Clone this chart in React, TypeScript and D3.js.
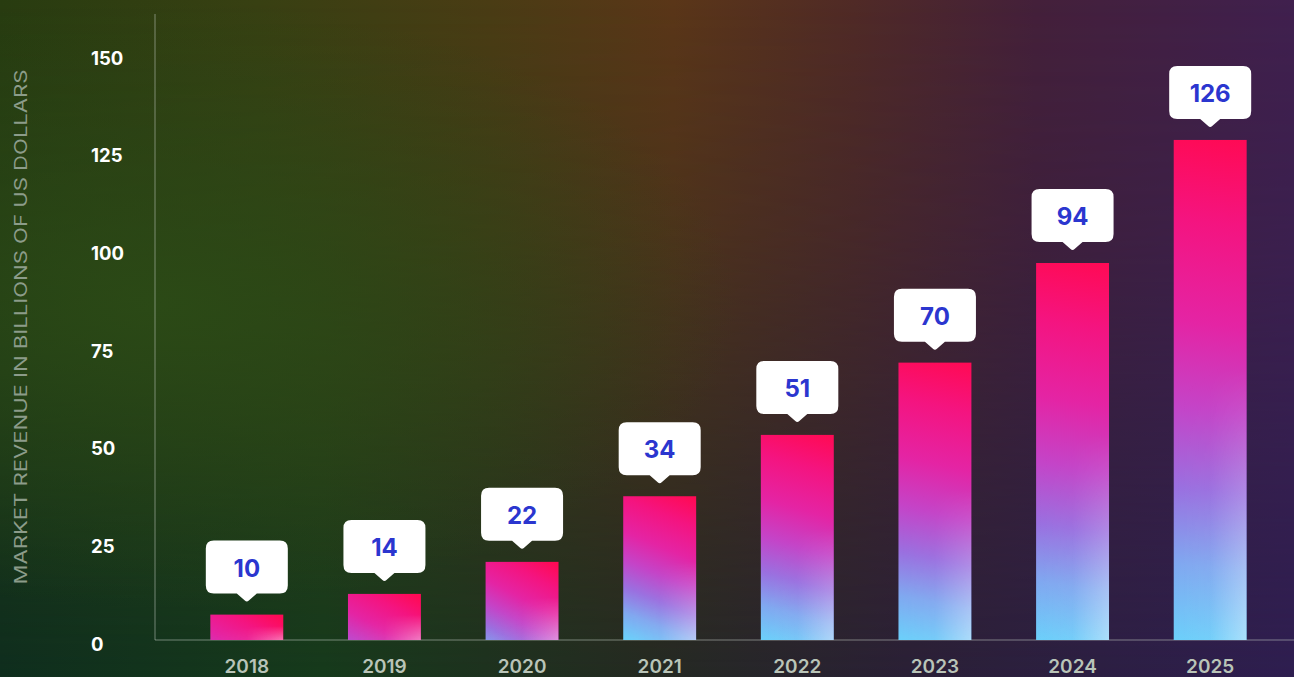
import React from "react";
import * as d3 from "d3";

const years = ["2018", "2019", "2020", "2021", "2022", "2023", "2024", "2025"];
const barValues = [6.5, 11.8, 20, 36.8, 52.5, 71, 96.5, 128];
const labels = ["10", "14", "22", "34", "51", "70", "94", "126"];
const yTicks = [0, 25, 50, 75, 100, 125, 150];
const yTitle = "MARKET REVENUE IN BILLIONS OF US DOLLARS";

const W = 1294;
const H = 677;

const barStops: [number, string][] = [
  [0, "#6ccffa"],
  [0.15, "#80a8f0"],
  [0.3, "#9a70e0"],
  [0.46, "#c444c8"],
  [0.63, "#e424a4"],
  [0.83, "#f41480"],
  [1, "#ff0a55"],
];

export default function App() {
  const x = d3
    .scaleBand<string>()
    .domain(years)
    .range([178, 1279])
    .paddingInner(0.47)
    .paddingOuter(0.235);
  const y = d3.scaleLinear().domain([0, 150]).range([640, 54]);
  const bw = x.bandwidth();
  const boxW = 82;
  const boxH = 53;
  const ptr = 8;

  return (
    <div style={{ position: "fixed", left: 0, top: 0, width: W, height: H }}>
      <svg width={W} height={H} style={{ display: "block" }}>
        <defs>
          <linearGradient id="bgTop" x1="0" y1="0" x2="1" y2="0">
            <stop offset="0" stopColor="#283c10" />
            <stop offset="0.2" stopColor="#384012" />
            <stop offset="0.38" stopColor="#4a3c14" />
            <stop offset="0.52" stopColor="#5a3618" />
            <stop offset="0.66" stopColor="#502a26" />
            <stop offset="0.8" stopColor="#44203a" />
            <stop offset="1" stopColor="#40204e" />
          </linearGradient>
          <linearGradient id="bgBot" x1="0" y1="0" x2="1" y2="0">
            <stop offset="0" stopColor="#0f2e1e" />
            <stop offset="0.25" stopColor="#163a1c" />
            <stop offset="0.5" stopColor="#242a22" />
            <stop offset="0.7" stopColor="#2a2036" />
            <stop offset="1" stopColor="#2e1e50" />
          </linearGradient>
          <linearGradient id="fadeV" x1="0" y1="0" x2="0" y2="1">
            <stop offset="0" stopColor="#fff" stopOpacity="1" />
            <stop offset="0.35" stopColor="#fff" stopOpacity="0.75" />
            <stop offset="1" stopColor="#fff" stopOpacity="0" />
          </linearGradient>
          <mask id="topMask" maskUnits="userSpaceOnUse" x="0" y="0" width={W} height={H}>
            <rect x={0} y={0} width={W} height={H} fill="url(#fadeV)" />
          </mask>
          <radialGradient id="greenGlow" cx="0.12" cy="0.45" r="0.45">
            <stop offset="0" stopColor="#2c4c16" stopOpacity="0.85" />
            <stop offset="1" stopColor="#2c4c16" stopOpacity="0" />
          </radialGradient>
          {years.map((yr, i) => {
            const bx = x(yr)!;
            const top = y(barValues[i]);
            const h = y(0) - top;
            const L = Math.max(h, 110);
            return (
              <linearGradient
                key={yr}
                id={`barGrad${i}`}
                gradientUnits="userSpaceOnUse"
                x1={bx + bw * 0.1}
                y1={top + L}
                x2={bx + bw * 0.9}
                y2={top}
              >
                {barStops.map(([o, c]) => (
                  <stop key={o} offset={o} stopColor={c} />
                ))}
              </linearGradient>
            );
          })}
          <linearGradient id="barSheen" x1="0" y1="0" x2="1" y2="0">
            <stop offset="0" stopColor="#ffffff" stopOpacity="0" />
            <stop offset="0.5" stopColor="#ffffff" stopOpacity="0.05" />
            <stop offset="1" stopColor="#ffffff" stopOpacity="0.42" />
          </linearGradient>
          <linearGradient id="sheenMaskGrad" x1="0" y1="0" x2="0" y2="1">
            <stop offset="0" stopColor="#000" />
            <stop offset="0.45" stopColor="#000" />
            <stop offset="1" stopColor="#fff" />
          </linearGradient>
          <mask id="sheenMask" maskContentUnits="objectBoundingBox">
            <rect x={0} y={0} width={1} height={1} fill="url(#sheenMaskGrad)" />
          </mask>
        </defs>

        <rect x={0} y={0} width={W} height={H} fill="url(#bgBot)" />
        <rect x={0} y={0} width={W} height={H} fill="url(#bgTop)" mask="url(#topMask)" />
        <rect x={0} y={0} width={W} height={H} fill="url(#greenGlow)" />

        {/* y axis title */}
        <text
          transform={`translate(27,${327}) rotate(-90)`}
          textAnchor="middle"
          fill="#8c9c8a"
          fontFamily="Inter, 'Noto Sans', sans-serif"
          fontSize={17}
          textLength={515}
          lengthAdjust="spacingAndGlyphs"
        >
          {yTitle}
        </text>

        {/* y tick labels */}
        {yTicks.map((t) => (
          <text
            key={t}
            x={91}
            y={y(t) + 3.5}
            dominantBaseline="central"
            fill="#ffffff"
            fontFamily="Inter, 'Noto Sans', sans-serif"
            fontWeight={700}
            fontSize={18.5}
          >
            {t}
          </text>
        ))}

        {/* axes */}
        <line x1={155} x2={155} y1={14} y2={y(0)} stroke="#c8d2c8" strokeOpacity={0.35} strokeWidth={1.5} />
        <line x1={155} x2={W} y1={y(0)} y2={y(0)} stroke="#c8d2c8" strokeOpacity={0.35} strokeWidth={1.5} />

        {/* bars */}
        {years.map((yr, i) => {
          const bx = x(yr)!;
          const top = y(barValues[i]);
          const h = y(0) - top;
          return (
            <g key={yr}>
              <rect x={bx} y={top} width={bw} height={h} fill={`url(#barGrad${i})`} />
              <rect x={bx} y={top} width={bw} height={h} fill="url(#barSheen)" mask="url(#sheenMask)" />
            </g>
          );
        })}

        {/* callouts */}
        {years.map((yr, i) => {
          const cx = x(yr)! + bw / 2;
          const top = y(barValues[i]);
          const bottom = top - 21;
          const boxTop = bottom - boxH;
          const r = 8;
          const l = cx - boxW / 2;
          const rr = cx + boxW / 2;
          const path = d3.path();
          path.moveTo(l + r, boxTop);
          path.lineTo(rr - r, boxTop);
          path.quadraticCurveTo(rr, boxTop, rr, boxTop + r);
          path.lineTo(rr, bottom - r);
          path.quadraticCurveTo(rr, bottom, rr - r, bottom);
          path.lineTo(cx + 10, bottom);
          path.lineTo(cx + 2, bottom + ptr - 1);
          path.quadraticCurveTo(cx, bottom + ptr + 1, cx - 2, bottom + ptr - 1);
          path.lineTo(cx - 10, bottom);
          path.lineTo(l + r, bottom);
          path.quadraticCurveTo(l, bottom, l, bottom - r);
          path.lineTo(l, boxTop + r);
          path.quadraticCurveTo(l, boxTop, l + r, boxTop);
          path.closePath();
          return (
            <g key={yr}>
              <path d={path.toString()} fill="#ffffff" />
              <text
                x={cx}
                y={boxTop + boxH / 2 + 1}
                textAnchor="middle"
                dominantBaseline="central"
                fill="#2b36cf"
                fontFamily="Inter, 'Noto Sans', sans-serif"
                fontWeight={700}
                fontSize={24}
              >
                {labels[i]}
              </text>
            </g>
          );
        })}

        {/* x labels */}
        {years.map((yr) => (
          <text
            key={yr}
            x={x(yr)! + bw / 2}
            y={673}
            textAnchor="middle"
            fill="#b9c4b8"
            fontFamily="Inter, 'Noto Sans', sans-serif"
            fontWeight={600}
            fontSize={19}
          >
            {yr}
          </text>
        ))}
      </svg>
    </div>
  );
}
